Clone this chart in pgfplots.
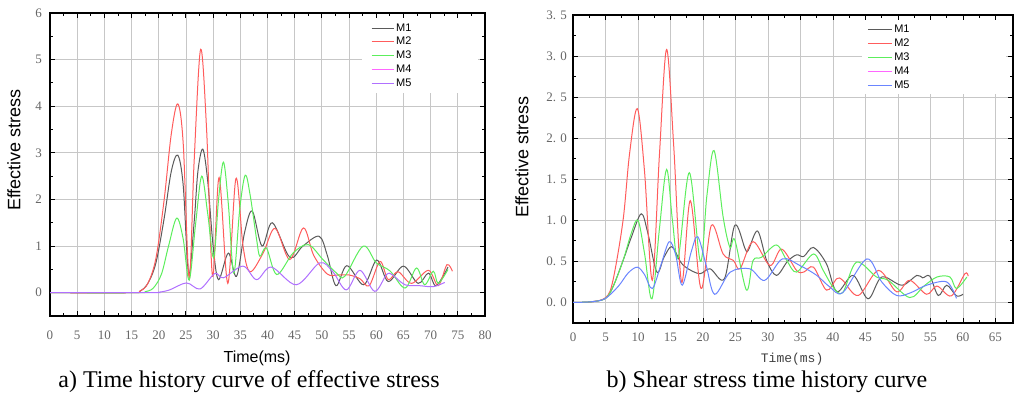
\documentclass[border=0pt]{standalone}
\usepackage{fontspec}
\setmainfont{Liberation Serif}
\setsansfont{Liberation Sans}
\setmonofont{Liberation Mono}
\usepackage{pgfplots}
\pgfplotsset{compat=1.18}

\definecolor{cMone}{HTML}{5A5A5A}
\definecolor{cMtwo}{HTML}{FF5C5C}
\definecolor{cMthree}{HTML}{5CEE5C}
\definecolor{cMfour}{HTML}{FF66FF}
\definecolor{cMfivea}{HTML}{B070FF}
\definecolor{cMfiveb}{HTML}{6A85FF}

\pgfplotsset{
  stress/.style={
    scale only axis,
    axis line style={line width=1.1pt},
    grid=major,
    major grid style={line width=0.8pt, black!22},
    tick align=inside,
    major tick length=5pt, minor tick length=3pt,
    tick style={line width=0.9pt, black},
    minor x tick num=1, minor y tick num=1,
    ticklabel style={font=\fontsize{13}{13}\selectfont, text=black!60},
    /pgf/number format/assume math mode=true,
    every axis plot/.append style={line width=1pt, smooth, tension=0.55, no markers},
    legend cell align=left,
  }
}

\begin{document}
\begin{tikzpicture}
\path[use as bounding box] (0pt,0pt) rectangle (1016pt,400pt);

% a) effective stress
\begin{axis}[stress,
  at={(50pt,84pt)}, anchor=south west,
  width=435pt, height=303pt,
  xmin=0, xmax=80, ymin=-0.5, ymax=6,
  xtick={0,5,...,80}, ytick={0,1,...,6},
  xticklabel style={yshift=-11pt},
  yticklabel style={xshift=-4.5pt},
  xlabel={\sffamily Time(ms)},
  ylabel={\sffamily Effective stress},
  xlabel style={font=\fontsize{16}{16}\selectfont, at={(axis description cs:0.476,0)}, anchor=center, yshift=-42pt},
  ylabel style={font=\fontsize{18}{18}\selectfont, at={(axis description cs:-0.083,0.548)}, anchor=center},
  legend image code/.code={\draw[#1] (0pt,0pt) -- (22pt,0pt);},
  legend style={draw=none, fill=white, at={(rel axis cs:0.717,0.9835)}, anchor=north west,
    font=\sffamily\fontsize{11}{11}\selectfont, inner xsep=9pt, inner ysep=5pt, row sep=3.75pt,
    nodes={inner ysep=0pt, text height=8pt, text depth=2pt}},
]
\addplot[cMone, forget plot] coordinates {(0,0) (15,0) (16.5,0.03) (18,0.2) (19.5,0.65) (21,1.6) (22.3,2.6) (23.5,2.95) (24.5,2.3) (25.5,0.4) (26.5,1.5) (27.2,2.6) (28.1,3.08) (29,2.4) (30,1.0) (31,0.28) (32.8,0.85) (34.3,0.35) (35.8,1.3) (37.2,1.75) (39,1.0) (40.9,1.5) (44.1,0.76) (46.5,1.0) (49.5,1.21) (51,0.8) (52.6,0.15) (54.6,0.58) (57.7,0.17) (60.1,0.7) (62.2,0.24) (65,0.57) (67.7,0.2) (69.6,0.42) (71,0.15) (73.2,0.55)};
\addplot[cMtwo, forget plot] coordinates {(0,0) (15,0) (16.5,0.03) (18,0.2) (19.5,0.75) (21,2.0) (22.3,3.4) (23.5,4.05) (24.5,3.2) (25.6,0.3) (26.5,2.8) (27.7,5.22) (28.8,3.5) (29.9,0.35) (31.1,2.47) (32.7,0.2) (34.2,2.45) (35.5,1.0) (36.8,0.45) (39.2,0.85) (41.4,1.38) (44.1,0.71) (46.6,1.39) (48.5,0.8) (51,0.4) (53,0.38) (55,0.38) (57,0.3) (58.7,0.15) (60.7,0.67) (62.2,0.28) (64,0.45) (66.5,0.2) (69.6,0.48) (71.4,0.15) (73,0.6) (74,0.46)};
\addplot[cMthree, forget plot] coordinates {(0,0) (16,0) (17.5,0.02) (19,0.1) (20.5,0.4) (21.8,1.0) (23.3,1.6) (24.5,1.15) (25.6,0.27) (26.8,1.5) (27.9,2.5) (29,1.7) (30.1,0.75) (31,2.0) (31.9,2.8) (32.8,1.9) (33.8,0.42) (34.9,1.8) (35.9,2.52) (36.8,2.1) (38,1.14) (38.6,0.78) (39.8,0.96) (41.7,0.39) (44.7,0.85) (47.5,1.03) (50.2,0.71) (52.7,0.42) (54.2,0.35) (57.6,1.0) (60,0.64) (62.5,0.47) (65.3,0.1) (67.4,0.53) (68.9,0.17) (70.5,0.46) (71.4,0.2) (73.2,0.5)};
\addplot[cMfivea, forget plot] coordinates {(0,0) (18,0) (20,0.01) (22,0.06) (25.1,0.21) (27.6,0.08) (30.3,0.41) (31.9,0.32) (35.5,0.57) (38,0.28) (40.7,0.55) (45.3,0.17) (49.6,0.64) (52,0.45) (54.5,0.06) (57,0.48) (59.7,0.03) (61.9,0.39) (63,0.38) (65.3,0.17) (68,0.15) (70.5,0.13) (72.6,0.22)};
\addlegendimage{color=cMone, line width=1pt}
\addlegendentry{\makebox[71pt][l]{M1}}
\addlegendimage{color=cMtwo, line width=1pt}
\addlegendentry{\makebox[71pt][l]{M2}}
\addlegendimage{color=cMthree, line width=1pt}
\addlegendentry{\makebox[71pt][l]{M3}}
\addlegendimage{color=cMfour, line width=1pt}
\addlegendentry{\makebox[71pt][l]{M4}}
\addlegendimage{color=cMfivea, line width=1pt}
\addlegendentry{\makebox[71pt][l]{M5}}
\end{axis}

% b) shear stress
\begin{axis}[stress,
  at={(573pt,77pt)}, anchor=south west,
  width=440pt, height=308pt,
  xmin=0, xmax=67.7, ymin=-0.25, ymax=3.5,
  xtick={0,5,...,65}, ytick={0,0.5,...,3.5},
  yticklabels={0. 0,0. 5,1. 0,1. 5,2. 0,2. 5,3. 0,3. 5},
  xticklabel style={yshift=-6pt},
  yticklabel style={xshift=-2.5pt},
  xlabel={\ttfamily Time(ms)},
  ylabel={\sffamily Effective stress},
  xlabel style={font=\fontsize{13}{13}\selectfont, text=black!75, at={(axis description cs:0.498,0)}, anchor=center, yshift=-36pt},
  ylabel style={font=\fontsize{18}{18}\selectfont, at={(axis description cs:-0.116,0.539)}, anchor=center},
  legend image code/.code={\draw[#1] (0pt,0pt) -- (24pt,0pt);},
  legend style={draw=none, fill=white, at={(rel axis cs:0.657,0.9838)}, anchor=north west,
    font=\sffamily\fontsize{11}{11}\selectfont, inner xsep=5pt, inner ysep=4pt, row sep=4pt,
    nodes={inner ysep=0pt, text height=8pt, text depth=2pt}},
]
\addplot[cMone, forget plot] coordinates {(0,0) (3,0.01) (5,0.05) (6.15,0.19) (7.7,0.51) (9,0.8) (10.5,1.08) (11.5,0.85) (12.9,0.37) (14,0.55) (15.2,0.68) (16.5,0.5) (17.5,0.42) (19.5,0.35) (21.1,0.41) (23.3,0.29) (24.9,0.94) (26.5,0.65) (27,0.64) (28.4,0.87) (29.8,0.51) (31.3,0.33) (33,0.5) (34.4,0.58) (35.5,0.56) (37,0.67) (39,0.47) (40.6,0.13) (43.1,0.33) (45.4,0.045) (47.5,0.31) (50.6,0.21) (52.9,0.33) (53.8,0.3) (54.9,0.32) (56.2,0.085) (57.5,0.21) (59,0.08) (60,0.1)};
\addplot[cMtwo, forget plot] coordinates {(0,0) (3,0.01) (5.1,0.065) (6.15,0.27) (7.7,1.0) (8.7,1.81) (9.9,2.36) (11,1.6) (12.2,0.27) (13.3,1.8) (14.4,3.08) (15.5,1.9) (16.7,0.25) (18.05,1.24) (19.7,0.17) (21.3,0.94) (23.1,0.59) (24.7,0.51) (25.7,0.41) (27.7,0.74) (30.3,0.45) (32.1,0.65) (34.4,0.39) (35.5,0.37) (37,0.43) (39,0.15) (40.6,0.29) (41.5,0.27) (43.9,0.085) (47,0.39) (49.8,0.13) (51.8,0.27) (54.4,0.1) (56,0.2) (58.2,0.08) (60.3,0.35) (60.8,0.32)};
\addplot[cMthree, forget plot] coordinates {(0,0) (3,0.01) (5,0.05) (6.15,0.19) (7.7,0.51) (9,0.85) (10,1.0) (11,0.6) (12.15,0.045) (13.3,0.9) (14.4,1.62) (15.3,1.0) (16.2,0.55) (17.9,1.58) (19.6,0.5) (20.6,1.3) (21.7,1.85) (23.1,1.04) (24.15,0.67) (24.9,0.76) (26.7,0.15) (27.7,0.51) (29,0.55) (31.3,0.7) (32.9,0.51) (34.4,0.37) (37,0.59) (38.5,0.39) (40,0.19) (41.5,0.12) (43.6,0.49) (46.7,0.31) (48.5,0.27) (51.8,0.06) (54,0.2) (56,0.31) (58,0.31) (59,0.17) (60.6,0.31)};
\addplot[cMfiveb, forget plot] coordinates {(0,0) (3,0.01) (5,0.05) (7,0.2) (8.5,0.36) (9.9,0.43) (11,0.34) (12.2,0.17) (13.5,0.45) (14.8,0.74) (15.8,0.58) (16.8,0.21) (18.2,0.62) (19.2,0.8) (20.5,0.45) (21.8,0.1) (24.2,0.37) (27.2,0.41) (29.5,0.27) (32.2,0.53) (34.9,0.45) (37.5,0.33) (39.5,0.19) (41.5,0.12) (45.2,0.53) (47.5,0.25) (49.8,0.085) (52,0.12) (54.4,0.21) (57.5,0.25) (59,0.05)};
\addlegendimage{color=cMone, line width=1pt}
\addlegendentry{\makebox[105pt][l]{M1}}
\addlegendimage{color=cMtwo, line width=1pt}
\addlegendentry{\makebox[105pt][l]{M2}}
\addlegendimage{color=cMthree, line width=1pt}
\addlegendentry{\makebox[105pt][l]{M3}}
\addlegendimage{color=cMfour, line width=1pt}
\addlegendentry{\makebox[105pt][l]{M4}}
\addlegendimage{color=cMfiveb, line width=1pt}
\addlegendentry{\makebox[105pt][l]{M5}}
\end{axis}

\node[font=\fontsize{24}{24}\selectfont] at (249pt,18pt) {a) Time history curve of effective stress};
\node[font=\fontsize{24}{24}\selectfont] at (767pt,18pt) {b) Shear stress time history curve};
\end{tikzpicture}
\end{document}
